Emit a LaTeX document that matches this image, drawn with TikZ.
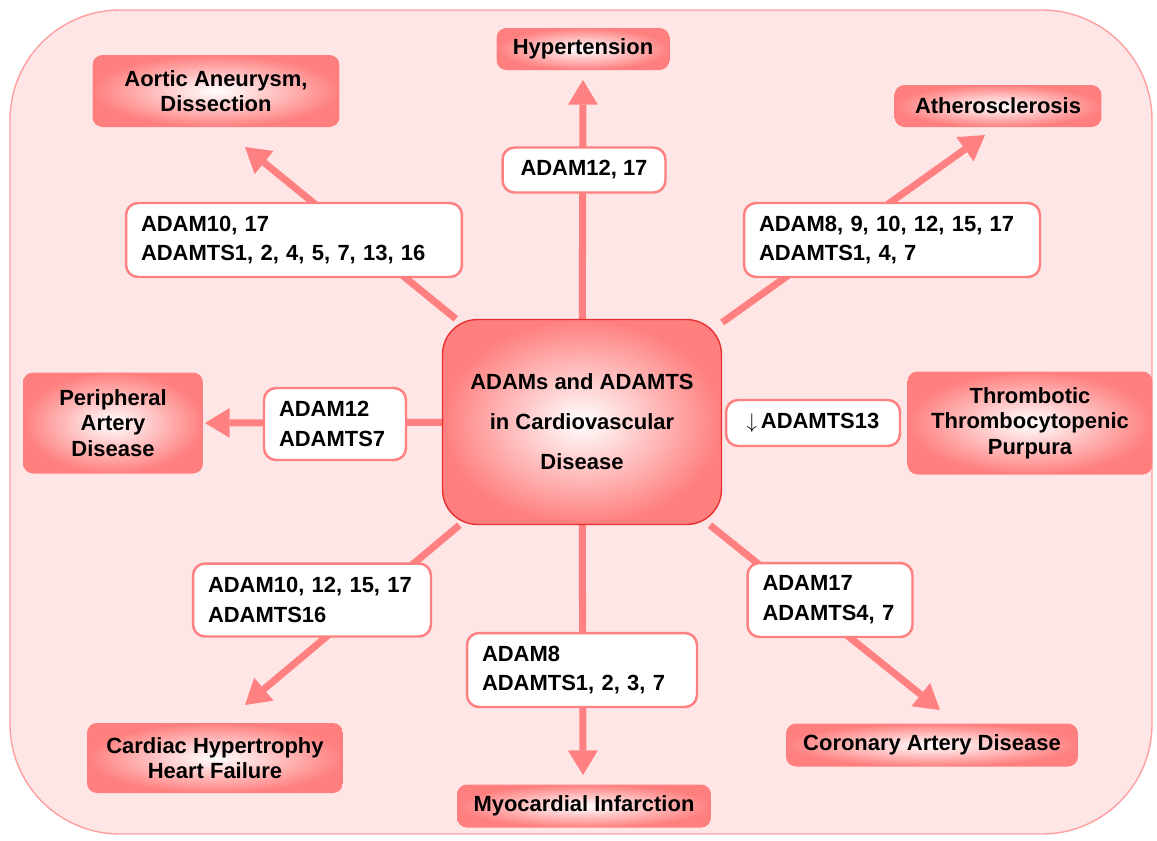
\documentclass[tikz,border=0pt]{standalone}
\usepackage{fontspec}
\setmainfont{Liberation Sans}
\usepackage{tikz}
\usetikzlibrary{arrows.meta,backgrounds}

\definecolor{arrowc}{HTML}{FF8080}
\definecolor{panelc}{HTML}{FFE6E6}
\definecolor{framec}{HTML}{FFA0A0}
\definecolor{hubedge}{HTML}{E83030}
\definecolor{diseasec}{HTML}{FF7F7F}

\tikzset{
  disease/.style={rounded corners=0.2cm, inner color=white, outer color=diseasec,
    align=center, font=\fontsize{12.5}{14.5}\selectfont\bfseries, inner sep=0pt},
  adamlabel/.style={rounded corners=0.24cm, draw=arrowc, line width=1.4pt, fill=white,
    align=left, font=\fontsize{12.5}{17}\selectfont\bfseries, inner xsep=0.3cm, inner ysep=0pt},
  hub/.style={rounded corners=0.7cm, draw=hubedge, line width=0.8pt, inner color=white,
    outer color=diseasec, align=center, font=\fontsize{12.5}{22.7}\selectfont\bfseries},
  link/.style={color=arrowc, line width=4pt, -{Triangle[length=14pt,width=17pt,fill=arrowc,line width=0pt]}}
}

\begin{document}
\begin{tikzpicture}[x=0.02cm, y=-0.02cm]
		
		\useasboundingbox (0,0) rectangle (1157,840);
		
		\begin{pgfonlayer}{background}
		\draw[fill=panelc, draw=framec, line width=0.8pt, rounded corners=2.2cm] (10,10) rectangle (1152,834);
		\end{pgfonlayer}
		
		% centre
		\node[hub, minimum width=5.58cm, minimum height=4.1cm] (hub) at (582,422) {ADAMs and ADAMTS\\in Cardiovascular\\Disease};
		
		% diseases
		\node[disease, minimum width=3.46cm, minimum height=0.84cm] (hyper) at (583,49) {Hypertension};
		
		\node[disease, minimum width=4.94cm, minimum height=1.44cm] (aortic) at (216,91) {Aortic Aneurysm,\\Dissection};
		
		\node[disease, minimum width=4.14cm, minimum height=0.84cm] (athero) at (998,106) {Atherosclerosis};
		
		\node[disease, minimum width=3.6cm, minimum height=2.02cm] (pad) at (113,423) {Peripheral\\Artery\\Disease};
		
		\node[disease, minimum width=4.9cm, minimum height=2.06cm] (ttp) at (1030,423) {Thrombotic\\Thrombocytopenic\\Purpura};
		
		\node[disease, minimum width=5.12cm, minimum height=1.4cm] (heart) at (215,758) {Cardiac Hypertrophy\\Heart Failure};
		
		\node[disease, minimum width=5.08cm, minimum height=0.86cm] (mi) at (584,806) {Myocardial Infarction};
		
		\node[disease, minimum width=5.84cm, minimum height=0.86cm] (cad) at (932,745) {Coronary Artery Disease};
		
		% arrow tips
		\coordinate (tipU) at (583,80);
		\coordinate (tipUL) at (245,147);
		\coordinate (tipUR) at (985,135);
		\coordinate (tipL) at (205,423);
		\coordinate (tipDL) at (245,705);
		\coordinate (tipD) at (583,775);
		\coordinate (tipDR) at (940,710);
		
		\begin{pgfonlayer}{background}
		\draw[link] (hub) edge (tipU)
		(hub) edge (tipUL)
		(hub) edge (tipUR)
		(hub) edge (tipL)
		(hub) edge (tipDL)
		(hub) edge (tipD)
		(hub) edge (tipDR);
		\end{pgfonlayer}
		
		% members
		\node[adamlabel, minimum width=3.26cm, minimum height=0.9cm, align=center] (lU) at (584,170) {ADAM12, 17};
		
		\node[adamlabel, minimum height=1.48cm, text width=6.12cm] (lUL) at (294,240) {ADAM10, 17\\ADAMTS1, 2, 4, 5, 7, 13, 16};
		
		\node[adamlabel, minimum height=1.48cm, text width=5.32cm] (lUR) at (892,240) {ADAM8, 9, 10, 12, 15, 17\\ADAMTS1, 4, 7};
		
		\node[adamlabel, minimum height=1.44cm, text width=2.24cm] (lL) at (335,424) {ADAM12\\ADAMTS7};
		
		\node[adamlabel, minimum width=3.48cm, minimum height=0.92cm, align=center] (lR) at (813,423) {$\downarrow$\,ADAMTS13};
		
		\node[adamlabel, minimum height=1.46cm, text width=4.16cm] (lDL) at (312,600) {ADAM10, 12, 15, 17\\ADAMTS16};
		
		\node[adamlabel, minimum height=1.48cm, text width=4.0cm] (lD) at (582,670) {ADAM8\\ADAMTS1, 2, 3, 7};
		
		\node[adamlabel, minimum height=1.48cm, text width=2.7cm] (lDR) at (830,600) {ADAM17\\ADAMTS4, 7};
		
	\end{tikzpicture}
\end{document}
